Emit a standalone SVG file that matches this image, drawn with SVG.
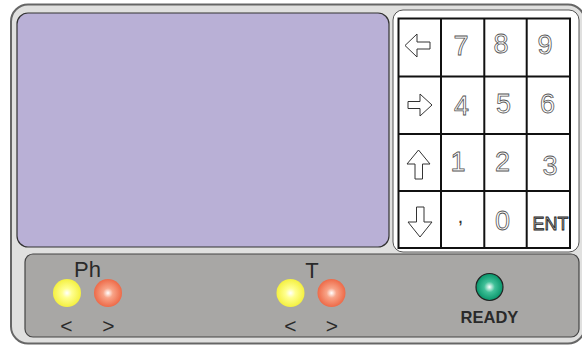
<svg xmlns="http://www.w3.org/2000/svg" width="582" height="347" viewBox="0 0 582 347">
<defs>
<radialGradient id="gY" cx="0.5" cy="0.5" r="0.5"><stop offset="0" stop-color="#ffffff"/><stop offset="0.35" stop-color="#ffff90"/><stop offset="1" stop-color="#f4f040"/></radialGradient>
<radialGradient id="gO" cx="0.5" cy="0.5" r="0.5"><stop offset="0" stop-color="#ffffff"/><stop offset="0.35" stop-color="#f8a488"/><stop offset="1" stop-color="#ee6a48"/></radialGradient>
<radialGradient id="gG" cx="0.5" cy="0.5" r="0.5"><stop offset="0" stop-color="#ffffff"/><stop offset="0.4" stop-color="#40c098"/><stop offset="1" stop-color="#08946a"/></radialGradient>
<style>
.key{font-family:"Liberation Sans",Arial,sans-serif;font-size:27px;fill:#ffffff;stroke:#555;stroke-width:0.8;text-anchor:middle}
.arr{fill:#ffffff;stroke:#333;stroke-width:1}
.lbl{font-family:"Liberation Sans",Arial,sans-serif;fill:#2a2a2a;text-anchor:middle}
.grid{stroke:#111;stroke-width:2;fill:none}
</style>
</defs>
<g id="frame">
<rect x="11" y="4.5" width="574" height="339" rx="17" fill="#e0e0df" stroke="#666" stroke-width="2"/>
</g>
<g id="screen">
<rect x="17" y="13" width="372" height="234" rx="11" fill="#b9b0d6" stroke="#333" stroke-width="1.2"/>
</g>
<g id="keypad">
<rect x="393" y="10" width="186" height="242" rx="10" fill="#ffffff" stroke="#555" stroke-width="1"/>
<rect class="grid" x="398.5" y="18.5" width="171.5" height="229.5"/>
<path class="grid" d="M441,18.5V248M484.3,18.5V248M526.7,18.5V248M398.5,76.5H570M398.5,134H570M398.5,191H570"/>
<path class="arr" d="M405,45.5L417,34V42H430V49H417V57Z"/>
<path class="arr" d="M432,105L420,94V101.5H408V108.5H420V116Z"/>
<path class="arr" d="M418.5,150L430,164H422.5V179H415V164H407Z"/>
<path class="arr" d="M420,237L432,222H424V207H416.5V222H408Z"/>
<text class="key" x="461" y="55">7</text>
<text class="key" x="501" y="53">8</text>
<text class="key" x="545" y="54">9</text>
<text class="key" x="461.5" y="115">4</text>
<text class="key" x="503.5" y="113">5</text>
<text class="key" x="547.5" y="113">6</text>
<text class="key" x="458" y="171">1</text>
<text class="key" x="502.5" y="171">2</text>
<text class="key" x="550" y="175">3</text>
<text class="key" x="460.5" y="223" style="font-size:14px;font-weight:bold;fill:#333;stroke:none">,</text>
<text class="key" x="502.5" y="230">0</text>
<text class="key" x="550.5" y="230" style="font-size:18px;fill:#aaa;stroke:#222;stroke-width:0.8">ENT</text>
</g>
<g id="panel">
<rect x="25" y="254" width="554" height="83" rx="8" fill="#a8a7a5" stroke="#444" stroke-width="1.2"/>
</g>
<g id="ph">
<text class="lbl" x="87.5" y="277" font-size="22">Ph</text>
<circle cx="67" cy="293" r="14" fill="url(#gY)"/>
<circle cx="108" cy="293" r="14" fill="url(#gO)"/>
<text class="lbl" x="66.5" y="333" font-size="21">&lt;</text>
<text class="lbl" x="108.5" y="333" font-size="21">&gt;</text>
</g>
<g id="t">
<text class="lbl" x="312" y="278" font-size="22">T</text>
<circle cx="290.5" cy="293" r="14" fill="url(#gY)"/>
<circle cx="331.5" cy="293" r="14" fill="url(#gO)"/>
<text class="lbl" x="290.5" y="333" font-size="21">&lt;</text>
<text class="lbl" x="332" y="333" font-size="21">&gt;</text>
</g>
<g id="ready">
<circle cx="489.5" cy="287" r="13.5" fill="url(#gG)" stroke="#222" stroke-width="1.2"/>
<text class="lbl" x="489.5" y="323" font-size="16.5" font-weight="bold">READY</text>
</g>
<g id="connectors"/>
</svg>
